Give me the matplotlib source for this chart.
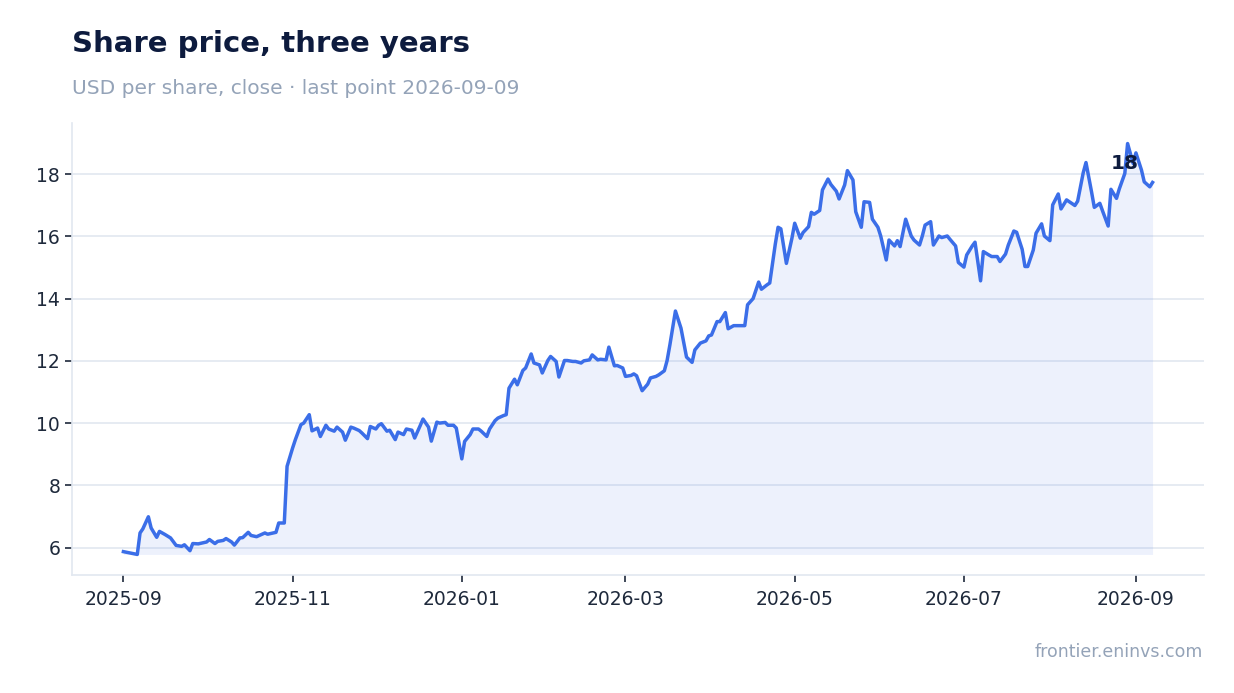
import matplotlib
matplotlib.use("Agg")
import matplotlib.pyplot as plt
import matplotlib.dates as mdates
import numpy as np
import pandas as pd

# closing prices (days counted from 2025-09-01)
start = pd.Timestamp("2025-09-01")
day_offsets = [
    0, 5, 6, 7, 9, 10, 12, 13, 15, 17, 19, 21, 22, 24, 25, 27, 28, 30, 31, 33,
    34, 36, 37, 39, 40, 42, 43, 45, 46, 48, 49, 51, 52, 54, 55, 56, 58, 59, 61, 62,
    64, 65, 67,
    68, 70, 71, 73, 74, 76, 77, 79, 80, 82, 83, 85, 86, 88, 89, 91, 92, 93, 95, 96,
    98, 99, 101, 102, 104, 105, 107, 108, 110, 111, 113, 114, 116, 117, 119, 120,
    122, 123, 125, 126, 128, 129, 131, 132, 134, 135,
    137, 138, 139, 141, 142, 144, 145, 147, 148, 150, 151, 153, 154, 156, 157, 159,
    160, 162, 163, 165, 166, 168, 169, 171, 172, 174, 175, 177, 178, 180, 181, 183,
    184, 185, 187, 189, 190, 192, 193, 195, 196, 197, 199,
    201, 203, 205, 206, 208, 210, 211, 212, 214, 215, 217, 218, 220, 221, 223, 224,
    225, 227, 229, 230, 232, 233,
    235, 236, 237, 239, 241, 242, 244, 245, 247, 248, 249, 251, 252, 254, 255, 257,
    258, 260, 261, 263, 264, 266, 267, 269, 270, 272, 273, 275, 276, 278, 279, 280,
    282, 284, 285, 287, 288, 289, 291, 292, 294, 295, 297, 298, 300, 301, 303, 304,
    306, 307, 309, 310, 312, 313, 315, 316, 318, 319, 321, 322, 324, 325, 326, 328,
    329, 331, 332, 334, 335, 337, 338, 340, 341, 343, 344, 346, 347, 349, 350, 352,
    353, 355, 356, 358, 359, 361, 362, 364, 365, 367, 368, 370, 371,
]
close = [
    5.87, 5.78, 6.47, 6.60, 6.99, 6.63, 6.33, 6.52, 6.42, 6.31, 6.07, 6.04, 6.09, 5.90,
    6.13, 6.12, 6.14, 6.18, 6.26, 6.13, 6.20, 6.23, 6.29, 6.18, 6.08, 6.31, 6.32, 6.49,
    6.39, 6.35, 6.39, 6.47, 6.43, 6.47, 6.49, 6.79, 6.79, 8.61, 9.20, 9.47, 9.95, 10.00,
    10.27,
    9.75, 9.84, 9.57, 9.93, 9.81, 9.74, 9.87, 9.71, 9.45, 9.87, 9.84, 9.76, 9.68, 9.50,
    9.89, 9.81, 9.93, 9.98, 9.74, 9.77, 9.47, 9.71, 9.63, 9.81, 9.77, 9.52, 9.92, 10.13,
    9.87, 9.42, 10.03, 10.00, 10.02, 9.93, 9.93, 9.84, 8.85, 9.41, 9.63, 9.81, 9.81,
    9.74, 9.57, 9.81, 10.08, 10.16,
    10.24, 10.27, 11.12, 11.41, 11.23, 11.69, 11.77, 12.22, 11.93, 11.87, 11.61, 12.01,
    12.14, 11.98, 11.48, 12.01, 12.01, 11.98, 11.98, 11.93, 12.00, 12.03, 12.19, 12.03,
    12.05, 12.03, 12.44, 11.84, 11.85, 11.77, 11.50, 11.53, 11.58, 11.52, 11.04, 11.25,
    11.45, 11.50, 11.55, 11.68, 12.01, 12.51, 13.60,
    13.05, 12.12, 11.95, 12.35, 12.57, 12.64, 12.80, 12.83, 13.26, 13.26, 13.55, 13.03,
    13.13, 13.13, 13.13, 13.13, 13.80, 14.00, 14.53, 14.30, 14.44, 14.50,
    15.75, 16.29, 16.24, 15.13, 15.94, 16.42, 15.94, 16.12, 16.31, 16.77, 16.71, 16.83,
    17.49, 17.84, 17.67, 17.45, 17.20, 17.65, 18.11, 17.81, 16.79, 16.29, 17.11, 17.09,
    16.55, 16.29, 16.01, 15.24, 15.88, 15.69, 15.86, 15.67, 16.55, 16.01, 15.88, 15.72,
    16.01, 16.36, 16.47, 15.72, 16.01, 15.96, 16.01, 15.90, 15.69, 15.16, 15.01, 15.40,
    15.69, 15.81, 14.57, 15.51, 15.40, 15.35, 15.35, 15.19, 15.43, 15.72, 16.17, 16.13,
    15.58, 15.03, 15.03, 15.56, 16.10, 16.40, 16.01, 15.86, 17.01, 17.36, 16.88, 17.17,
    17.11, 16.99, 17.13, 18.04, 18.37, 17.43, 16.93, 17.06, 16.81, 16.33, 17.51, 17.22,
    17.52, 18.02, 18.98, 18.34, 18.68, 18.13, 17.75, 17.59, 17.73,
]

title = "Share price, three years"
subtitle = "USD per share, close · last point 2026-09-09"
source = "frontier.eninvs.com"

dates = start + pd.to_timedelta(day_offsets, unit="D")
close = np.array(close)

blue = "#3b6ee8"
navy = "#0d1b3e"
grey = "#94a3b8"
light = "#e2e8f0"

fig = plt.figure(figsize=(12.34, 6.93), dpi=100)
ax = fig.add_axes([0.0583, 0.1703, 0.9174, 0.6522])

ax.plot(dates, close, color=blue, lw=2.5, zorder=3)
ax.fill_between(dates, close, close.min(), color=blue, alpha=0.09, lw=0, zorder=2)

ax.xaxis.set_major_locator(mdates.MonthLocator(bymonth=[1, 3, 5, 7, 9, 11]))
ax.xaxis.set_major_formatter(mdates.DateFormatter("%Y-%m"))
ax.set_yticks([6, 8, 10, 12, 14, 16, 18])

ax.grid(axis="y", color=light, lw=1.2, zorder=0)
ax.set_axisbelow(True)
for s in ["top", "right"]:
    ax.spines[s].set_visible(False)
for s in ["left", "bottom"]:
    ax.spines[s].set_color(light)
    ax.spines[s].set_linewidth(1.2)
ax.tick_params(axis="both", colors="#1e293b", labelsize=13.5, length=5, width=1.2)
ax.tick_params(axis="x", pad=6)

ax.annotate(f"{close[-1]:.0f}", xy=(dates[-1], close[-1]), xytext=(-20, 14),
            textcoords="offset points", ha="center", va="center",
            fontsize=14.5, fontweight="bold", color=navy, zorder=4)

fig.text(0.0583, 0.936, title, fontsize=21, fontweight="bold", color=navy, va="center")
fig.text(0.0583, 0.873, subtitle, fontsize=14.5, color=grey, va="center")
fig.text(0.975, 0.059, source, fontsize=12.5, color=grey, ha="right", va="center")

fig.savefig("out.png", dpi=100)
